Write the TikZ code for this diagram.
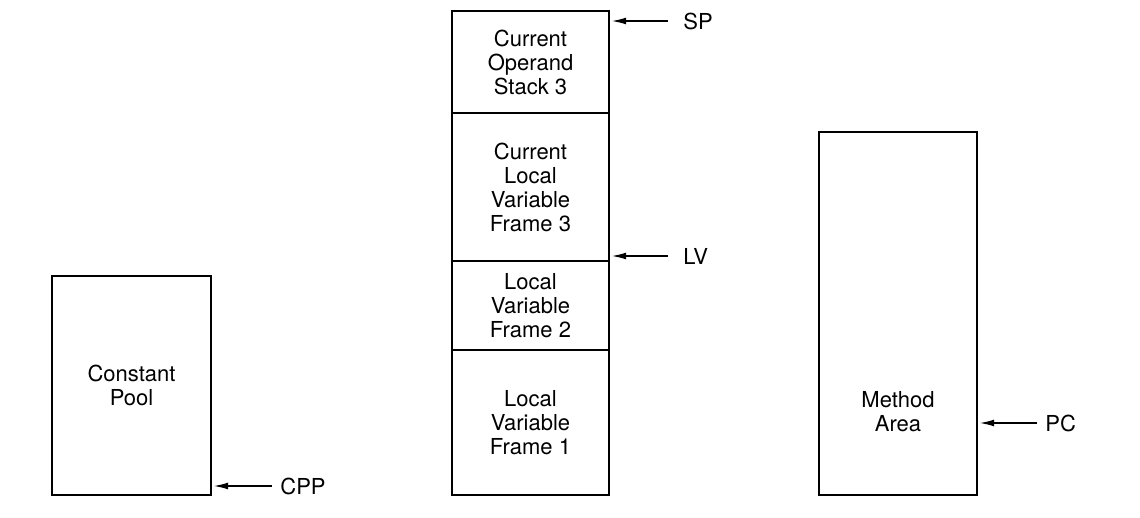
\documentclass[tikz,border=0pt]{standalone}
\usepackage{fontspec}
\setmainfont{TeX Gyre Heros}
\usetikzlibrary{arrows.meta,positioning,calc}
\begin{document}
\begin{tikzpicture}[x=0.5pt,y=-0.5pt, line join=miter,
  font=\fontsize{11}{12}\selectfont,
  mem/.style={draw,line width=1pt,outer sep=0pt,inner sep=0pt,minimum width=78.5pt,align=center},
  ptr/.style={-{Latex[length=7pt,width=3.4pt]},line width=0.6pt,shorten >=1.5pt},
  reg/.style={anchor=west,inner sep=0pt}]
\useasboundingbox (0,0) rectangle (1140,518);
% constant pool
\node[mem,minimum width=79.5pt,minimum height=109.5pt] (pool) at (131.5,385.5) {Constant\\Pool};
% stack
\node[mem,minimum height=51pt,anchor=north] (os) at (530.5,11) {Current\\Operand\\Stack 3};
\node[mem,minimum height=74pt,below=0pt of os] (lv3) {Current\\Local\\Variable\\Frame 3};
\node[mem,minimum height=44.5pt,below=0pt of lv3] (lv2) {Local\\Variable\\Frame 2};
\node[mem,minimum height=72.5pt,below=0pt of lv2] (lv1) {Local\\Variable\\Frame 1};
% method area
\node[mem,minimum width=79pt,minimum height=181.5pt] (ma) at (898,313.5) {};
\node[align=center] (matext) at (898,412) {Method\\Area};
% registers
\node[reg] (sp) at (683,21) {SP};
\node[reg] (lv) at (683,256) {LV};
\node[reg] (cpp) at (280,486) {CPP};
\node[reg] (pc) at (1045,423) {PC};
\draw[ptr] ([xshift=-7.5pt]sp.west) -- (sp.west -| os.east);
\draw[ptr] ([xshift=-7.5pt]lv.west) -- (lv.west -| lv3.east);
\draw[ptr] ([xshift=-4pt]cpp.west) -- (cpp.west -| pool.east);
\draw[ptr] ([xshift=-4pt]pc.west) -- (pc.west -| ma.east);
\end{tikzpicture}
\end{document}
